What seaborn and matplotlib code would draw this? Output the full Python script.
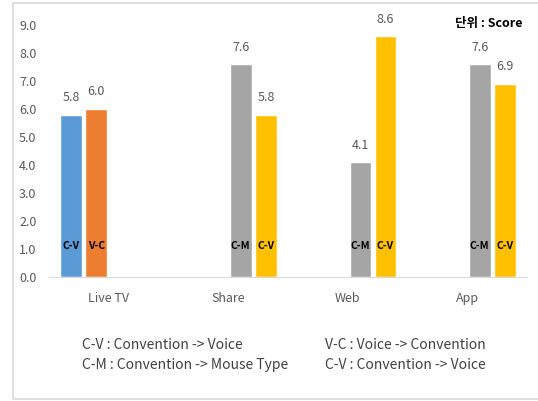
import seaborn as sns
import matplotlib.pyplot as plt
import matplotlib.patches as mpatches
import pandas as pd

# data
categories = ['Live TV', 'Share', 'Web', 'App']
series = ['C-V (1)', 'V-C', 'C-M', 'C-V (2)']
bar_tags = ['C-V', 'V-C', 'C-M', 'C-V']
cv1_vals = [5.8, None, None, None]
vc_vals = [6.0, None, None, None]
cm_vals = [None, 7.6, 4.1, 7.6]
cv2_vals = [None, 5.8, 8.6, 6.9]
colors = ['#5B9BD5', '#ED7D31', '#A5A5A5', '#FFC000']
yticks = [0.0, 1.0, 2.0, 3.0, 4.0, 5.0, 6.0, 7.0, 8.0, 9.0]
legend_left = ['C-V : Convention -> Voice', 'C-M : Convention -> Mouse Type']
legend_right = ['V-C : Voice -> Convention', 'C-V : Convention -> Voice']

rows = []
for s, vals in zip(series, [cv1_vals, vc_vals, cm_vals, cv2_vals]):
    for c, v in zip(categories, vals):
        if v is not None:
            rows.append([c, s, v])
df = pd.DataFrame(rows, columns=['cat', 'series', 'score'])

sns.set_style('white')
plt.rcParams['font.family'] = ['Noto Sans CJK KR', 'DejaVu Sans']

fig = plt.figure(figsize=(5.38, 4.01), dpi=100)
ax = fig.add_axes([49/538, 124/401, 478/538, 252/401])

sns.barplot(data=df, x='cat', y='score', hue='series', order=categories,
            hue_order=series, palette=colors, width=0.84, gap=0.14,
            saturation=1, legend=False, ax=ax, errorbar=None)

ax.set_ylim(0, 9)
ax.set_yticks(yticks)
ax.set_yticklabels(['%.1f' % t for t in yticks], color='#595959', fontsize=9)
ax.tick_params(axis='x', colors='#595959', labelsize=9, pad=11, length=0)
ax.tick_params(axis='y', length=0, pad=9)
ax.set_xlabel('')
ax.set_ylabel('')
for sp in ['top', 'right', 'left']:
    ax.spines[sp].set_visible(False)
ax.spines['bottom'].set_color('#D9D9D9')

# value labels on top and tags inside bars
for cont, tag in zip(ax.containers, bar_tags):
    for bar in cont:
        h = bar.get_height()
        if h != h or h == 0:
            continue
        cx = bar.get_x() + bar.get_width() / 2
        ax.text(cx, h + 0.38, '%.1f' % h, ha='center', va='bottom',
                fontsize=9, color='#595959', clip_on=False)
        ax.text(cx, 1.1, tag, ha='center', va='center', fontsize=7.5,
                fontweight='bold', color='black')

fig.text(455/538, 1 - 23/401, '단위 : Score', fontsize=9, fontweight='bold',
         va='center', ha='left', color='black')

for i, (l, r) in enumerate(zip(legend_left, legend_right)):
    y = 1 - (345 + 20 * i) / 401
    fig.text(82/538, y, l, fontsize=10, color='#404040', va='center')
    fig.text(325/538, y, r, fontsize=10, color='#404040', va='center')

fig.patches.append(mpatches.Rectangle((13/538, 2/401), 1, 396/401,
                                      transform=fig.transFigure, fill=False,
                                      edgecolor='#D9D9D9', linewidth=1.2))

fig.savefig('out.png', dpi=100)
plt.close(fig)
